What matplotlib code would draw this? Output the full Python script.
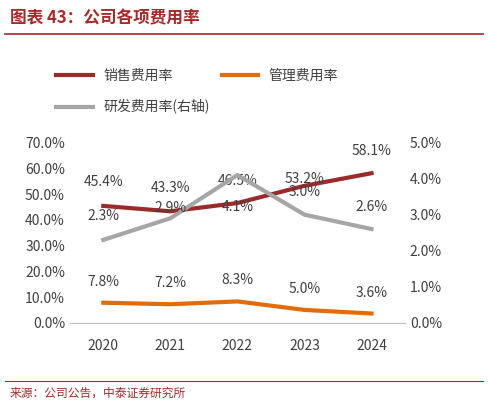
import matplotlib.pyplot as plt
from matplotlib.lines import Line2D

plt.rcParams['font.family'] = ['Noto Sans CJK SC', 'DejaVu Sans']

years = ['2020', '2021', '2022', '2023', '2024']
sales = [45.4, 43.3, 46.5, 53.2, 58.1]
mgmt = [7.8, 7.2, 8.3, 5.0, 3.6]
rnd = [2.3, 2.9, 4.1, 3.0, 2.6]

# label offsets in pixels (dy)
sales_dy = [24, 23, 22, 7, 22]
mgmt_dy = [21, 21, 21, 21, 21]
rnd_dy = [24, 10, -32, 23, 22]

c_sales = '#9b2a2a'
c_mgmt = '#e36c0a'
c_rnd = '#a6a6a6'

fig = plt.figure(figsize=(4.88, 4.05), dpi=100)
ax = fig.add_axes([0.143, 0.203, 0.687, 0.445])
ax2 = ax.twinx()

x = range(len(years))
ax.plot(x, sales, color=c_sales, lw=3, zorder=3)
ax.plot(x, mgmt, color=c_mgmt, lw=3, zorder=3)
ax2.plot(x, rnd, color=c_rnd, lw=3, zorder=2)

ax.set_ylim(0, 70)
ax2.set_ylim(0, 5)
ax.set_xlim(-0.5, 4.5)
ax.set_yticks(range(0, 71, 10))
ax.set_yticklabels([f'{v:.1f}%' for v in range(0, 71, 10)])
ax2.set_yticks([0, 1, 2, 3, 4, 5])
ax2.set_yticklabels([f'{v:.1f}%' for v in range(6)])
ax.set_xticks(list(x))
ax.set_xticklabels(years)
for a in (ax, ax2):
    for s in a.spines.values():
        s.set_visible(False)
    a.tick_params(length=0, labelsize=10, colors='#404040')
ax.spines['bottom'].set_visible(True)
ax.spines['bottom'].set_color('#bfbfbf')
ax.tick_params(axis='x', pad=12)

def lab(a, vals, dys):
    for i, (v, d) in enumerate(zip(vals, dys)):
        a.annotate(f'{v:.1f}%', (i, v), xytext=(0, d * 0.72), textcoords='offset points',
                   ha='center', va='center', fontsize=10, color='#404040', zorder=5)

lab(ax, sales, sales_dy)
lab(ax, mgmt, mgmt_dy)
lab(ax2, rnd, rnd_dy)

handles = [Line2D([], [], color=c_sales, lw=3), Line2D([], [], color=c_mgmt, lw=3),
           Line2D([], [], color=c_rnd, lw=3)]
fig.legend(handles[:2], ['销售费用率', '管理费用率'], loc='upper left', bbox_to_anchor=(0.09, 0.86),
           ncol=2, frameon=False, fontsize=10, handlelength=2.6, columnspacing=3.5,
           labelcolor='#404040')
fig.legend(handles[2:], ['研发费用率(右轴)'], loc='upper left', bbox_to_anchor=(0.09, 0.785),
           frameon=False, fontsize=10, handlelength=2.6, labelcolor='#404040')

fig.text(0.02, 0.955, '图表 43：公司各项费用率', fontsize=12, fontweight='bold',
         style='italic', color='#a52a2a', va='center')
fig.add_artist(Line2D([0.01, 0.99], [0.915, 0.915], color='#a52a2a', lw=1.2))
fig.add_artist(Line2D([0.01, 0.99], [0.06, 0.06], color='#a52a2a', lw=0.8))
fig.text(0.02, 0.03, '来源：公司公告，中泰证券研究所', fontsize=8.5, color='#a52a2a',
         va='center')

fig.savefig('out.png', dpi=100)
